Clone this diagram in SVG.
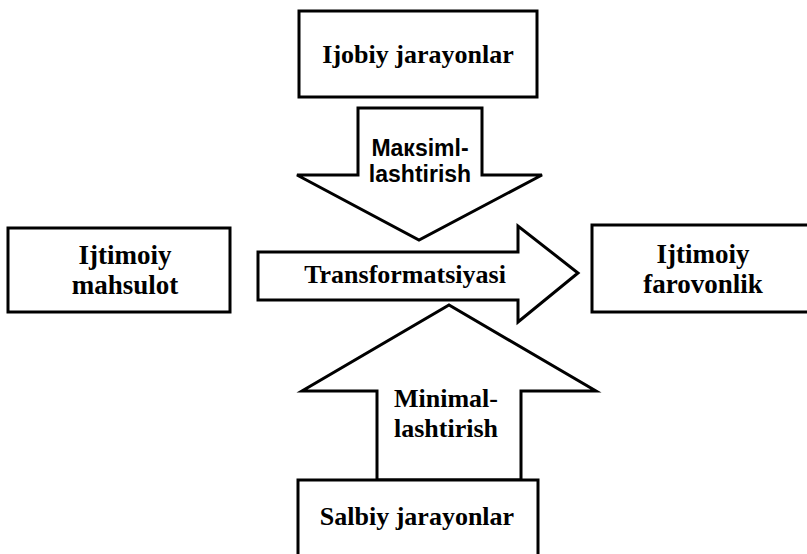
<svg xmlns="http://www.w3.org/2000/svg" width="807" height="554" viewBox="0 0 807 554">
<style>
.box{fill:#fff;stroke:#000;stroke-width:3}
.arr{fill:#fff;stroke:#000;stroke-width:3;stroke-linejoin:miter}
.t{font-family:"Liberation Serif","Times New Roman",serif;font-weight:bold;font-size:26px;fill:#000;text-anchor:middle}
.t2{font-size:27px}
.s{font-family:"Liberation Sans",Arial,sans-serif;font-weight:bold;font-size:23px;fill:#000;text-anchor:middle}
</style>
<rect width="807" height="554" fill="#fff"/>
<g id="connectors">
<g id="arrow-maksimallashtirish">
<polygon class="arr" points="358,108 482,108 482,175 542,175 419,240 297,175 358,175"/>
<text class="s" x="420" y="156">Maкsiml-</text>
<text class="s" x="420" y="182">lashtirish</text>
</g>
<g id="arrow-transformatsiyasi">
<polygon class="arr" points="258,252 518,252 518,226 578,273 518,322 518,300 258,300"/>
<text class="t" x="405" y="283">Transformatsiyasi</text>
</g>
<g id="arrow-minimallashtirish">
<polygon class="arr" points="377,480 377,391 302,391 449,305 596,391 521,391 521,480"/>
<text class="t" x="446" y="407">Minimal-</text>
<text class="t" x="446" y="437">lashtirish</text>
</g>
</g>
<g id="node-ijobiy">
<rect class="box" x="299" y="11" width="238" height="86"/>
<text class="t" x="418" y="63">Ijobiy jarayonlar</text>
</g>
<g id="node-mahsulot">
<rect class="box" x="8" y="228" width="222" height="84"/>
<text class="t t2" x="125" y="264">Ijtimoiy</text>
<text class="t t2" x="125" y="294">mahsulot</text>
</g>
<g id="node-farovonlik">
<rect class="box" x="592" y="225" width="220" height="87"/>
<text class="t t2" x="703" y="263">Ijtimoiy</text>
<text class="t t2" x="703" y="293">farovonlik</text>
</g>
<g id="node-salbiy">
<rect class="box" x="298" y="480" width="240" height="90"/>
<text class="t" x="417" y="525">Salbiy jarayonlar</text>
</g>
</svg>
